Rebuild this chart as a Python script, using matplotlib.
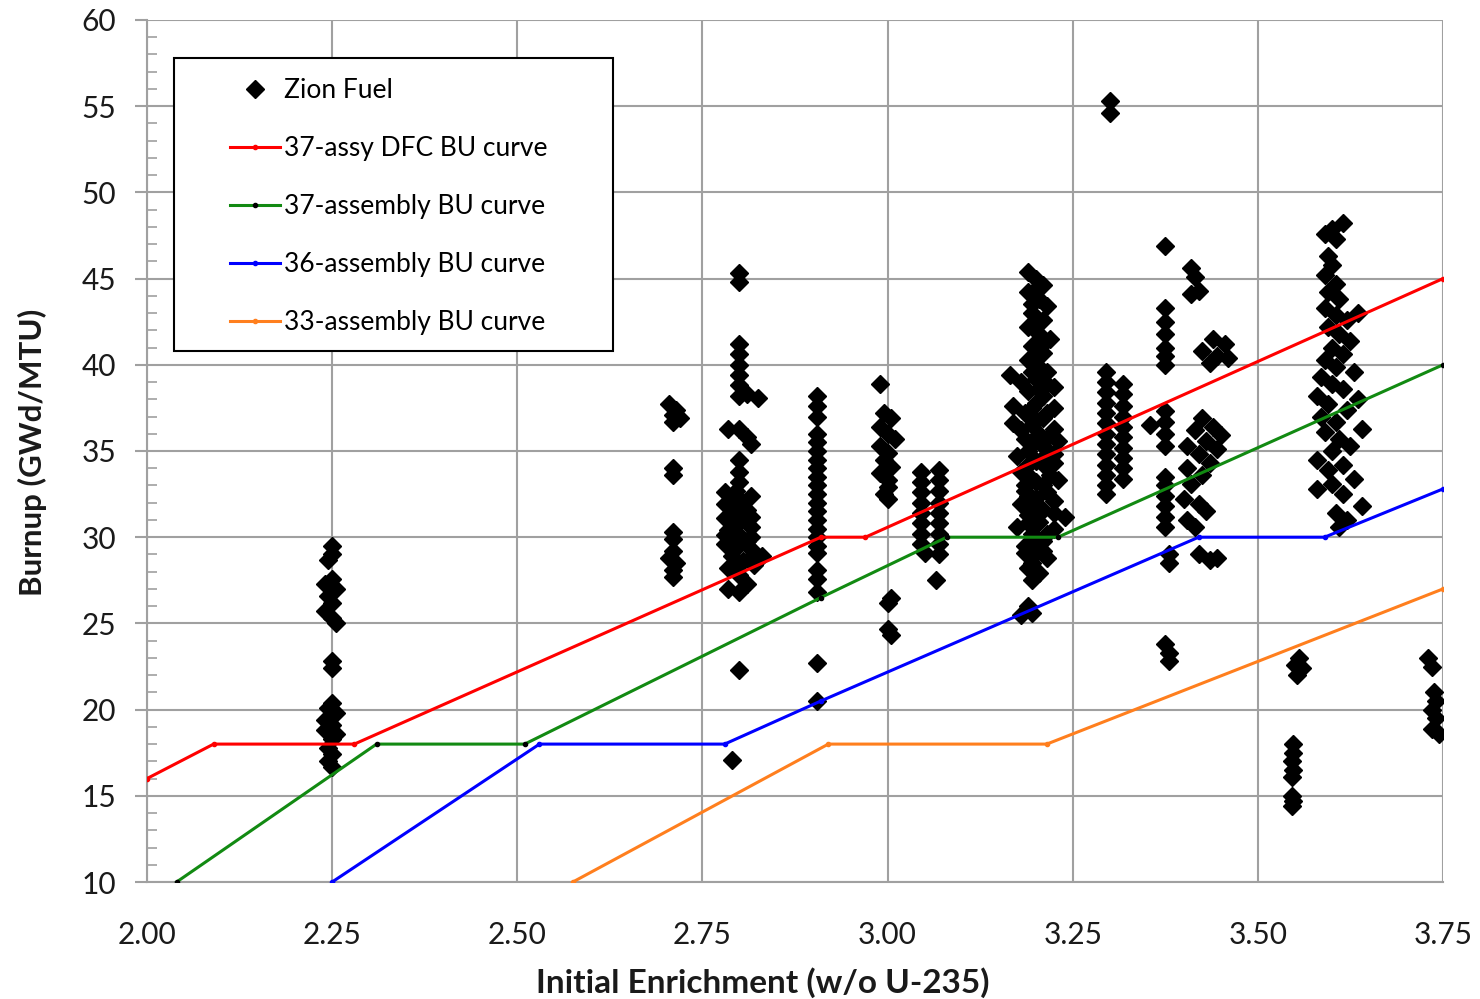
import matplotlib
matplotlib.use('Agg')
from matplotlib import pyplot as plt
from matplotlib.patches import Rectangle
import numpy as np

plt.rcParams['font.family'] = ['Lato', 'DejaVu Sans']

# burnup curves (enrichment, burnup)
dfc37_x = [2.00, 2.09, 2.28, 2.91, 2.97, 3.75]
dfc37_y = [16, 18, 18, 30, 30, 45]
a37_x = [2.04, 2.31, 2.51, 2.91, 3.08, 3.23, 3.75]
a37_y = [10, 18, 18, 26.5, 30, 30, 40]
a36_x = [2.25, 2.53, 2.78, 2.91, 3.42, 3.59, 3.75]
a36_y = [10, 18, 18, 20.5, 30, 30, 32.8]
a33_x = [2.575, 2.92, 3.215, 3.75]
a33_y = [10, 18, 18, 27]

# Zion fuel assemblies, grouped by enrichment batch
zion_225 = [(2.25, 29.5), (2.25, 29.0), (2.245, 28.7), (2.25, 27.6), (2.24, 27.3), (2.255, 27.0),
            (2.245, 26.6), (2.25, 26.2), (2.24, 25.7), (2.25, 25.3), (2.255, 25.0), (2.25, 22.8),
            (2.25, 22.4), (2.25, 20.4), (2.245, 20.1), (2.255, 19.8), (2.24, 19.4), (2.25, 19.1),
            (2.24, 18.8), (2.255, 18.6), (2.25, 18.3), (2.245, 17.8), (2.25, 17.4), (2.245, 17.0),
            (2.25, 16.7)]
zion_271 = [(2.705, 37.7), (2.715, 37.4), (2.71, 37.1), (2.72, 36.9), (2.71, 36.7), (2.71, 34.0),
            (2.71, 33.6), (2.71, 30.3), (2.71, 29.9), (2.71, 29.2), (2.705, 28.8), (2.715, 28.5),
            (2.71, 28.1), (2.71, 27.7)]
zion_279 = [(2.80, 45.3), (2.80, 44.8), (2.80, 41.2), (2.80, 40.6), (2.80, 40.0), (2.80, 39.4),
            (2.80, 38.8), (2.80, 38.2), (2.825, 38.1), (2.81, 38.3), (2.785, 36.3), (2.80, 36.3),
            (2.81, 35.8), (2.815, 35.4), (2.80, 34.5), (2.80, 33.8), (2.80, 33.2), (2.795, 32.7),
            (2.80, 32.2), (2.78, 31.9), (2.79, 31.6), (2.81, 31.6), (2.78, 31.1), (2.80, 30.9),
            (2.815, 30.6), (2.785, 30.4), (2.80, 30.1), (2.81, 29.8), (2.78, 29.6), (2.795, 29.4),
            (2.815, 29.3), (2.83, 28.9), (2.79, 28.9), (2.805, 28.6), (2.82, 28.4), (2.785, 28.2),
            (2.80, 27.8), (2.81, 27.3), (2.785, 27.0), (2.80, 26.8), (2.80, 22.3), (2.79, 17.1),
            (2.815, 32.4), (2.78, 32.6), (2.815, 31.2), (2.79, 30.6), (2.815, 30.0), (2.795, 29.9),
            (2.78, 30.1), (2.805, 31.3), (2.79, 32.0), (2.82, 29.0), (2.80, 28.4)]
zion_291 = [(2.905, 38.2), (2.905, 37.6), (2.905, 37.0), (2.905, 36.0), (2.905, 35.5),
            (2.905, 35.0), (2.905, 34.5), (2.905, 34.0), (2.905, 33.5), (2.905, 33.0),
            (2.905, 32.5), (2.905, 32.0), (2.905, 31.5), (2.905, 31.0), (2.905, 30.5),
            (2.905, 30.0), (2.905, 29.5), (2.905, 29.1), (2.905, 28.1), (2.905, 27.6),
            (2.905, 26.8), (2.905, 22.7), (2.905, 20.5)]
zion_300 = [(2.99, 38.9), (2.995, 37.2), (3.005, 36.9), (2.99, 36.4), (3.0, 36.0), (3.01, 35.7),
            (2.99, 35.3), (3.0, 34.9), (2.995, 34.5), (3.005, 34.1), (2.99, 33.7), (3.0, 33.3),
            (3.0, 32.9), (2.995, 32.5), (3.0, 32.2), (3.005, 26.5), (3.0, 26.2), (3.0, 24.7),
            (3.005, 24.3)]
zion_306 = [(3.045, 33.8), (3.07, 33.9), (3.045, 33.2), (3.07, 33.3), (3.045, 32.6), (3.07, 32.7),
            (3.045, 32.0), (3.07, 32.0), (3.045, 31.4), (3.07, 31.4), (3.045, 30.8), (3.07, 30.8),
            (3.045, 30.2), (3.07, 30.2), (3.045, 29.6), (3.07, 29.6), (3.05, 29.1), (3.07, 29.0),
            (3.065, 27.5)]
zion_320 = [(3.19, 45.4), (3.20, 45.0), (3.21, 44.6), (3.19, 44.2), (3.205, 43.8), (3.215, 43.4),
            (3.195, 43.0), (3.21, 42.6), (3.19, 42.2), (3.205, 41.8), (3.22, 41.5), (3.195, 41.1),
            (3.21, 40.7), (3.19, 40.3), (3.205, 39.9), (3.215, 39.6), (3.165, 39.4), (3.18, 39.0),
            (3.20, 39.2), (3.225, 38.7), (3.19, 38.5), (3.21, 38.2), (3.17, 37.6), (3.20, 37.8),
            (3.225, 37.5), (3.185, 37.2), (3.21, 36.9), (3.17, 36.6), (3.195, 36.5), (3.225, 36.3),
            (3.205, 36.0), (3.185, 35.7), (3.23, 35.6), (3.21, 35.3), (3.19, 35.0), (3.175, 34.7),
            (3.225, 34.8), (3.20, 34.4), (3.215, 34.0), (3.18, 33.8), (3.195, 33.4), (3.23, 33.3),
            (3.21, 33.0), (3.185, 32.7), (3.20, 32.3), (3.225, 32.1), (3.18, 31.9), (3.21, 31.6),
            (3.24, 31.2), (3.19, 31.3), (3.205, 30.9), (3.175, 30.6), (3.225, 30.5), (3.195, 30.2),
            (3.21, 29.8), (3.185, 29.5), (3.20, 29.1), (3.215, 28.8), (3.195, 28.5), (3.205, 27.9),
            (3.195, 27.5), (3.19, 26.0), (3.18, 25.5), (3.195, 25.6),
            (3.20, 44.4), (3.195, 43.5), (3.20, 42.4), (3.21, 41.2), (3.20, 40.5), (3.195, 39.6),
            (3.205, 38.6), (3.215, 37.2), (3.195, 37.5), (3.20, 36.8), (3.22, 35.9), (3.195, 35.4),
            (3.21, 34.6), (3.19, 34.2), (3.22, 33.6), (3.20, 33.2), (3.19, 32.4), (3.215, 32.6),
            (3.20, 31.8), (3.225, 31.4), (3.19, 30.8), (3.215, 30.2), (3.20, 29.6), (3.185, 29.1),
            (3.21, 29.2), (3.19, 28.2), (3.185, 33.0), (3.215, 38.9), (3.18, 36.2), (3.225, 34.3)]
zion_330 = [(3.30, 55.3), (3.30, 54.6), (3.295, 39.6), (3.295, 39.0), (3.295, 38.4),
            (3.295, 37.8), (3.295, 37.2), (3.295, 36.6), (3.295, 36.0), (3.295, 35.4),
            (3.295, 34.8), (3.295, 34.2), (3.295, 33.6), (3.295, 33.0), (3.295, 32.5),
            (3.318, 38.9), (3.318, 38.3), (3.318, 37.6), (3.318, 37.0), (3.318, 36.4),
            (3.318, 35.8), (3.318, 35.2), (3.318, 34.6), (3.318, 34.0), (3.318, 33.4)]
zion_337 = [(3.375, 46.9), (3.375, 43.3), (3.375, 42.5), (3.375, 41.8), (3.375, 41.0),
            (3.375, 40.5), (3.375, 40.0), (3.375, 37.3), (3.375, 36.7), (3.375, 36.0),
            (3.355, 36.5), (3.375, 35.3), (3.375, 33.5), (3.375, 33.0), (3.375, 32.4),
            (3.375, 31.8), (3.375, 31.2), (3.375, 30.6), (3.38, 29.0), (3.38, 28.5),
            (3.375, 23.8), (3.38, 23.3), (3.38, 22.8)]
zion_342 = [(3.41, 45.6), (3.415, 45.1), (3.42, 44.3), (3.41, 44.1), (3.44, 41.5), (3.455, 41.2),
            (3.425, 40.8), (3.445, 40.5), (3.46, 40.4), (3.435, 40.1), (3.425, 36.9), (3.44, 36.4),
            (3.415, 36.2), (3.45, 35.9), (3.43, 35.6), (3.405, 35.3), (3.445, 35.1), (3.42, 34.8),
            (3.435, 34.3), (3.405, 34.0), (3.425, 33.6), (3.41, 33.1), (3.40, 32.2), (3.42, 31.9),
            (3.43, 31.5), (3.405, 31.0), (3.415, 30.6), (3.42, 29.0), (3.445, 28.8), (3.435, 28.7)]
zion_355 = [(3.555, 23.0), (3.55, 22.6), (3.56, 22.4), (3.553, 22.0), (3.548, 18.0), (3.548, 17.5),
            (3.546, 17.0), (3.548, 16.5), (3.546, 16.1), (3.546, 15.0), (3.548, 14.7), (3.546, 14.4)]
zion_361 = [(3.59, 47.6), (3.60, 47.9), (3.615, 48.2), (3.605, 47.3), (3.595, 46.3), (3.60, 45.8),
            (3.59, 45.2), (3.605, 44.7), (3.595, 44.2), (3.61, 43.8), (3.59, 43.3), (3.605, 42.9),
            (3.62, 42.6), (3.635, 43.0), (3.595, 42.2), (3.61, 41.8), (3.625, 41.4), (3.60, 41.0),
            (3.615, 40.6), (3.59, 40.3), (3.605, 39.9), (3.63, 39.6), (3.585, 39.3), (3.60, 38.9),
            (3.615, 38.6), (3.58, 38.2), (3.635, 38.0), (3.595, 37.7), (3.62, 37.4), (3.585, 37.0),
            (3.605, 36.7), (3.64, 36.3), (3.59, 36.1), (3.61, 35.7), (3.625, 35.3), (3.60, 35.0),
            (3.58, 34.5), (3.615, 34.2), (3.595, 33.9), (3.63, 33.4), (3.60, 33.1), (3.58, 32.8),
            (3.615, 32.5), (3.64, 31.8), (3.605, 31.4), (3.62, 31.0), (3.61, 30.6)]
zion_373 = [(3.73, 23.0), (3.735, 22.5), (3.738, 21.0), (3.74, 20.5), (3.735, 20.0),
            (3.74, 19.5), (3.735, 18.9), (3.745, 18.6)]

zion = (zion_225 + zion_271 + zion_279 + zion_291 + zion_300 + zion_306 + zion_320 +
        zion_330 + zion_337 + zion_342 + zion_355 + zion_361 + zion_373)
zion_x = [p[0] for p in zion]
zion_y = [p[1] for p in zion]

fig = plt.figure(figsize=(14.8, 9.99), dpi=100)
ax = fig.add_axes([0.0993, 0.1171, 0.8757, 0.8629])

grid_c = '#a0a0a0'
txt_c = '#1a1a1a'
ax.plot(zion_x, zion_y, 'D', color='black', markersize=9.5, label='Zion Fuel', zorder=3)
ax.plot(dfc37_x, dfc37_y, color='#ff0000', lw=2.2, marker='o', ms=3, label='37-assy DFC BU curve', zorder=4)
ax.plot(a37_x, a37_y, color='#128a12', lw=2.2, marker='o', ms=3, mfc='black', mec='black',
        label='37-assembly BU curve', zorder=4)
ax.plot(a36_x, a36_y, color='#0000ff', lw=2.2, marker='o', ms=3, label='36-assembly BU curve', zorder=4)
ax.plot(a33_x, a33_y, color='#ff7f1e', lw=2.2, marker='o', ms=3, label='33-assembly BU curve', zorder=4)

ax.set_xlim(2.0, 3.75)
ax.set_ylim(10, 60)
ax.set_xticks(np.arange(2.0, 3.76, 0.25))
ax.set_xticklabels(['%.2f' % v for v in np.arange(2.0, 3.76, 0.25)])
ax.set_yticks(range(10, 61, 5))
ax.set_yticks(range(10, 61, 1), minor=True)
ax.grid(True, color=grid_c, lw=1.5, zorder=0)
ax.set_axisbelow(True)
for s in ['top', 'right']:
    ax.spines[s].set_visible(False)
for s in ['left', 'bottom']:
    ax.spines[s].set_color(grid_c)
    ax.spines[s].set_linewidth(1.5)
ax.tick_params(axis='y', which='major', direction='out', length=9, width=1.5, color=grid_c,
               labelsize=21.5, pad=13, labelcolor=txt_c)
ax.tick_params(axis='y', which='minor', direction='in', length=7, width=1.2, color=grid_c)
ax.tick_params(axis='x', which='major', length=0, labelsize=21.5, pad=28, labelcolor=txt_c)

ax.set_xlabel('Initial Enrichment (w/o U-235)', fontsize=24, fontweight='bold', color=txt_c)
ax.xaxis.set_label_coords(0.475, -0.099)
ax.set_ylabel('Burnup (GWd/MTU)', fontsize=22.5, fontweight='bold', color=txt_c)
ax.yaxis.set_label_coords(-0.077, 0.498)

# legend box drawn separately to get the wide side padding
ax.add_patch(Rectangle((0.0208, 0.616), 0.3388, 0.3399, transform=ax.transAxes, fill=True,
                       facecolor='white', edgecolor='black', lw=1.5, zorder=5))
leg = ax.legend(loc='upper left', bbox_to_anchor=(0.064, 0.9325), fontsize=19, frameon=False,
                handlelength=1.9, labelspacing=1.25, borderpad=0, handletextpad=0.15,
                borderaxespad=0)
leg.set_zorder(6)

fig.savefig('out.png', dpi=100)
